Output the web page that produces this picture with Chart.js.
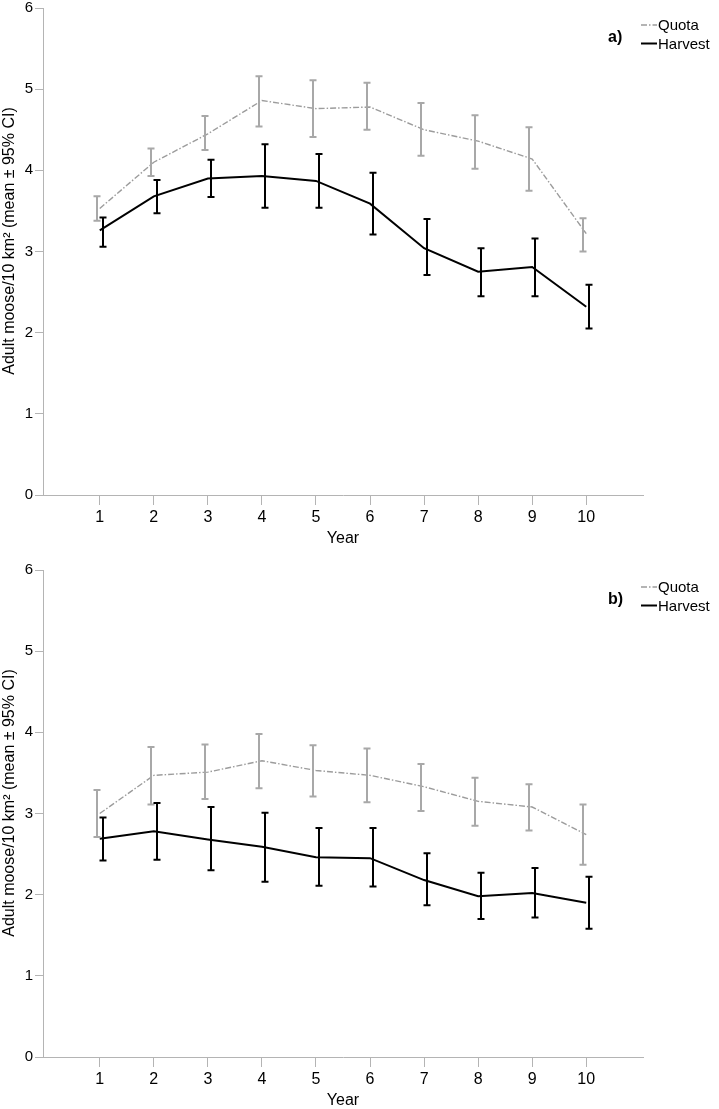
<!DOCTYPE html>
<html>
<head>
<meta charset="utf-8">
<script src="https://cdn.jsdelivr.net/npm/chart.js@4"></script>
<style>
  html, body { margin: 0; padding: 0; background: #fff; overflow: hidden; }
  .panel { position: absolute; left: 0; width: 719px; height: 562px; }
</style>
</head>
<body>
<div class="panel" style="top:0"><canvas id="chartA" width="719" height="562"></canvas></div>
<div class="panel" style="top:562px"><canvas id="chartB" width="719" height="562"></canvas></div>
<script>
const years = [1, 2, 3, 4, 5, 6, 7, 8, 9, 10];
const yTicks = [0, 1, 2, 3, 4, 5, 6];
const yTitle = 'Adult moose/10 km² (mean ± 95% CI)';

// panel a
const quotaA   = [3.53, 4.10, 4.45, 4.86, 4.76, 4.78, 4.50, 4.36, 4.14, 3.22];
const quotaALo = [3.38, 3.93, 4.25, 4.54, 4.41, 4.50, 4.18, 4.02, 3.75, 3.00];
const quotaAHi = [3.68, 4.27, 4.67, 5.16, 5.11, 5.08, 4.83, 4.68, 4.53, 3.41];
const harvestA   = [3.26, 3.68, 3.90, 3.93, 3.87, 3.59, 3.04, 2.75, 2.81, 2.32];
const harvestALo = [3.06, 3.47, 3.67, 3.54, 3.54, 3.21, 2.71, 2.45, 2.45, 2.05];
const harvestAHi = [3.42, 3.88, 4.13, 4.32, 4.20, 3.97, 3.40, 3.04, 3.16, 2.59];

// panel b
const quotaB   = [3.00, 3.47, 3.51, 3.65, 3.53, 3.47, 3.33, 3.15, 3.08, 2.74];
const quotaBLo = [2.71, 3.11, 3.18, 3.31, 3.21, 3.14, 3.03, 2.85, 2.79, 2.37];
const quotaBHi = [3.29, 3.82, 3.85, 3.98, 3.84, 3.80, 3.61, 3.44, 3.36, 3.11];
const harvestB   = [2.69, 2.78, 2.68, 2.59, 2.46, 2.45, 2.18, 1.98, 2.02, 1.90];
const harvestBLo = [2.42, 2.43, 2.30, 2.16, 2.11, 2.10, 1.87, 1.70, 1.72, 1.58];
const harvestBHi = [2.95, 3.13, 3.08, 3.01, 2.82, 2.82, 2.51, 2.27, 2.33, 2.22];

const AXIS_GREY = '#b4b4b4';
const FONT = "'Liberation Sans', Arial, sans-serif";

// vertical CI bars with small caps
const errorBars = {
  id: 'errorBars',
  afterDatasetsDraw(chart) {
    const { ctx, scales: { x, y } } = chart;
    chart.data.datasets.forEach(ds => {
      ctx.save();
      ctx.strokeStyle = ds.barColor;
      ctx.lineWidth = ds.barWidth;
      ds.data.forEach((p, i) => {
        const px = Math.round(x.getPixelForValue(p.x)) + ds.barShift;
        const top = y.getPixelForValue(ds.hi[i]);
        const bot = y.getPixelForValue(ds.lo[i]);
        ctx.beginPath();
        ctx.moveTo(px, top); ctx.lineTo(px, bot);
        ctx.moveTo(px - 3.5, top); ctx.lineTo(px + 3.5, top);
        ctx.moveTo(px - 3.5, bot); ctx.lineTo(px + 3.5, bot);
        ctx.stroke();
      });
      ctx.restore();
    });
  }
};

// panel tag, small legend at the top right, and the y title (sits a bit above centre)
const cornerLegend = {
  id: 'cornerLegend',
  afterDraw(chart) {
    const ctx = chart.ctx;
    ctx.save();
    ctx.fillStyle = '#000';
    ctx.textBaseline = 'middle';
    ctx.font = 'bold 16px ' + FONT;
    ctx.fillText(chart.options.panelTag, 608, 38);
    ctx.font = '15px ' + FONT;
    chart.data.datasets.forEach((ds, i) => {
      const yy = 25 + i * 18.5;
      ctx.strokeStyle = ds.borderColor;
      ctx.lineWidth = ds.borderWidth;
      ctx.setLineDash(ds.borderDash || []);
      ctx.beginPath();
      ctx.moveTo(641, yy); ctx.lineTo(657, yy);
      ctx.stroke();
      ctx.setLineDash([]);
      ctx.fillText(ds.label, 658, yy + 1);
    });

    ctx.translate(10, 241);
    ctx.rotate(-Math.PI / 2);
    ctx.textAlign = 'center';
    ctx.font = '16px ' + FONT;
    ctx.fillText(yTitle, 0, 0);
    ctx.restore();
  }
};

function makeChart(id, tag, q, qLo, qHi, h, hLo, hHi) {
  return new Chart(document.getElementById(id), {
    type: 'line',
    data: {
      datasets: [
        {
          label: 'Quota',
          data: years.map((yr, i) => ({ x: yr, y: q[i] })),
          lo: qLo, hi: qHi,
          borderColor: '#9c9c9c',
          borderWidth: 1.4,
          borderDash: [6, 2, 1.5, 2],
          barColor: '#a8a8a8', barWidth: 2, barShift: -3,
          pointRadius: 0,
          tension: 0
        },
        {
          label: 'Harvest',
          data: years.map((yr, i) => ({ x: yr, y: h[i] })),
          lo: hLo, hi: hHi,
          borderColor: '#000',
          borderWidth: 2,
          barColor: '#000', barWidth: 2, barShift: 3,
          pointRadius: 0,
          tension: 0
        }
      ]
    },
    options: {
      panelTag: tag,
      responsive: false,
      animation: false,
      layout: { padding: { top: 8, right: 76, left: 0, bottom: 0 } },
      plugins: { legend: { display: false }, tooltip: { enabled: false } },
      scales: {
        x: {
          type: 'linear',
          min: -0.05, max: 11.05,
          afterBuildTicks: s => { s.ticks = years.map(v => ({ value: v })); },
          afterFit: s => { s.height = 562 - 495; },
          grid: { drawOnChartArea: false, drawTicks: true, tickLength: 10, color: AXIS_GREY },
          border: { display: true, color: AXIS_GREY },
          ticks: { color: '#000', padding: 3, font: { family: FONT, size: 16 } },
          title: { display: true, text: 'Year', color: '#000', padding: { top: 0, bottom: 14 },
                   font: { family: FONT, size: 16 } }
        },
        y: {
          min: 0, max: 6,
          afterBuildTicks: s => { s.ticks = yTicks.map(v => ({ value: v })); },
          afterFit: s => { s.width = 43; s.paddingTop = 0; s.paddingBottom = 0; },
          grid: { drawOnChartArea: false, drawTicks: true, tickLength: 8, color: AXIS_GREY },
          border: { display: true, color: AXIS_GREY },
          ticks: { color: '#000', padding: 2, font: { family: FONT, size: 15 } }
        }
      }
    },
    plugins: [errorBars, cornerLegend]
  });
}

makeChart('chartA', 'a)', quotaA, quotaALo, quotaAHi, harvestA, harvestALo, harvestAHi);
makeChart('chartB', 'b)', quotaB, quotaBLo, quotaBHi, harvestB, harvestBLo, harvestBHi);
</script>
</body>
</html>
